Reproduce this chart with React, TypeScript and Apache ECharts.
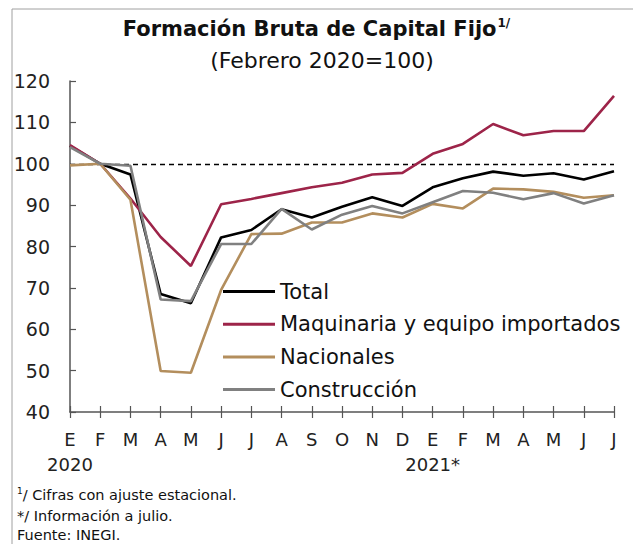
import React, { useEffect, useRef } from "react";
import * as echarts from "echarts";

const months = ["E", "F", "M", "A", "M", "J", "J", "A", "S", "O", "N", "D", "E", "F", "M", "A", "M", "J", "J"];
const yearLabels: Record<number, string> = { 0: "2020", 12: "2021*" };
const seriesNames = ["Total", "Maquinaria y equipo importados", "Nacionales", "Construcción"];
const total = [104.3, 100.0, 97.4, 68.5, 66.3, 82.2, 84.0, 89.0, 87.0, 89.6, 91.9, 89.8, 94.3, 96.5, 98.1, 97.1, 97.7, 96.2, 98.2];
const maquinaria = [104.5, 100.0, 91.6, 82.3, 75.3, 90.2, 91.5, 92.9, 94.3, 95.4, 97.4, 97.8, 102.4, 104.8, 109.6, 106.9, 107.9, 107.9, 116.4];
const nacionales = [99.6, 100.0, 91.3, 49.9, 49.5, 69.5, 83.0, 83.1, 85.8, 85.8, 88.0, 87.0, 90.3, 89.2, 94.0, 93.8, 93.2, 91.8, 92.4];
const construccion = [104.0, 100.0, 99.5, 67.2, 66.8, 80.6, 80.6, 89.1, 84.1, 87.7, 89.8, 88.0, 90.7, 93.4, 93.0, 91.4, 92.9, 90.4, 92.4];
const colors = ["#000000", "#9D2449", "#B38E5D", "#808080"];
const yTicks = { min: 40, max: 120, interval: 10 };
const baseLine = 100;
const footnotes = ["/ Cifras con ajuste estacional.", "*/ Información a julio.", "Fuente: INEGI."];

const FONT = "'DejaVu Sans', 'Open Sans', sans-serif";

export default function App() {
  const ref = useRef<HTMLDivElement>(null);
  useEffect(() => {
    if (!ref.current) return;
    const chart = echarts.init(ref.current, undefined, { renderer: "svg" });
    const dataSets = [total, maquinaria, nacionales, construccion];
    const series: any[] = dataSets.map((d, i) => ({
      name: seriesNames[i],
      type: "line",
      data: d,
      showSymbol: false,
      symbol: "none",
      lineStyle: { color: colors[i], width: 2.6 },
      itemStyle: { color: colors[i] },
      z: 3 + i,
    }));
    series[0].markLine = {
      silent: true,
      symbol: "none",
      label: { show: false },
      lineStyle: { color: "#000", type: [5, 4], width: 1.4 },
      data: [{ yAxis: baseLine }],
      z: 1,
    };
    chart.setOption({
      animation: false,
      textStyle: { fontFamily: FONT },
      graphic: [
        {
          type: "rect",
          shape: { x: 12, y: 9, width: 700, height: 700 },
          style: { fill: "none", stroke: "#a0a0a0", lineWidth: 1 },
          silent: true,
        },
        {
          type: "text",
          left: "center",
          top: 17,
          style: {
            text: "{t|Formación Bruta de Capital Fijo}{s|1/}",
            rich: {
              t: { fontSize: 21, fontWeight: "bold", fill: "#111", fontFamily: FONT },
              s: { fontSize: 12, fontWeight: "bold", fill: "#111", fontFamily: FONT, padding: [0, 0, 12, 1] },
            },
          },
        },
        {
          type: "text",
          x: 322,
          y: 60,
          style: {
            text: "(Febrero 2020=100)",
            fontSize: 22,
            fill: "#111",
            fontFamily: FONT,
            align: "center",
            verticalAlign: "middle",
          },
        },
        {
          type: "text",
          x: 17,
          y: 495,
          style: {
            text: "{s|1}{n|" + footnotes[0] + "}",
            verticalAlign: "middle",
            rich: {
              s: { fontSize: 9, fill: "#111", fontFamily: FONT, padding: [0, 0, 8, 0] },
              n: { fontSize: 14.5, fill: "#111", fontFamily: FONT },
            },
          },
        },
        {
          type: "text",
          x: 17,
          y: 516,
          style: { text: footnotes[1], fontSize: 14.5, fill: "#111", fontFamily: FONT, verticalAlign: "middle" },
        },
        {
          type: "text",
          x: 17,
          y: 535,
          style: { text: footnotes[2], fontSize: 14.5, fill: "#111", fontFamily: FONT, verticalAlign: "middle" },
        },
      ],
      legend: {
        orient: "vertical",
        left: 218,
        top: 276,
        itemWidth: 52,
        itemHeight: 3,
        itemGap: 11.7,
        icon: "rect",
        data: seriesNames,
        textStyle: { fontSize: 21, lineHeight: 20, color: "#111", fontFamily: FONT },
      },
      grid: { left: 70, right: 19, top: 81, bottom: 132, containLabel: false },
      xAxis: [
        {
          type: "category",
          data: months,
          boundaryGap: false,
          axisLine: { lineStyle: { color: "#555", width: 1.5 } },
          axisTick: { show: true, length: 6, inside: false, lineStyle: { color: "#555", width: 1.2 } },
          axisLabel: {
            interval: 0,
            margin: 15,
            fontSize: 18,
            lineHeight: 25,
            color: "#222",
            fontFamily: FONT,
            formatter: (v: string, i: number) => (yearLabels[i] ? v + "\n" + yearLabels[i] : v),
          },
        },
        {
          type: "category",
          data: months,
          boundaryGap: false,
          position: "bottom",
          axisLine: { show: false },
          axisTick: { show: true, length: 6, inside: true, lineStyle: { color: "#555", width: 1.2 } },
          axisLabel: { show: false },
        },
      ],
      yAxis: {
        type: "value",
        min: yTicks.min,
        max: yTicks.max,
        interval: yTicks.interval,
        splitLine: { show: false },
        axisLine: { show: true, lineStyle: { color: "#555", width: 1.5 } },
        axisTick: { show: true, inside: true, length: 6, lineStyle: { color: "#555", width: 1.2 } },
        axisLabel: { fontSize: 19, margin: 20, color: "#222", fontFamily: FONT },
      },
      series,
    });
    return () => chart.dispose();
  }, []);
  return <div ref={ref} style={{ width: 633, height: 544, position: "absolute", left: 0, top: 0 }} />;
}
